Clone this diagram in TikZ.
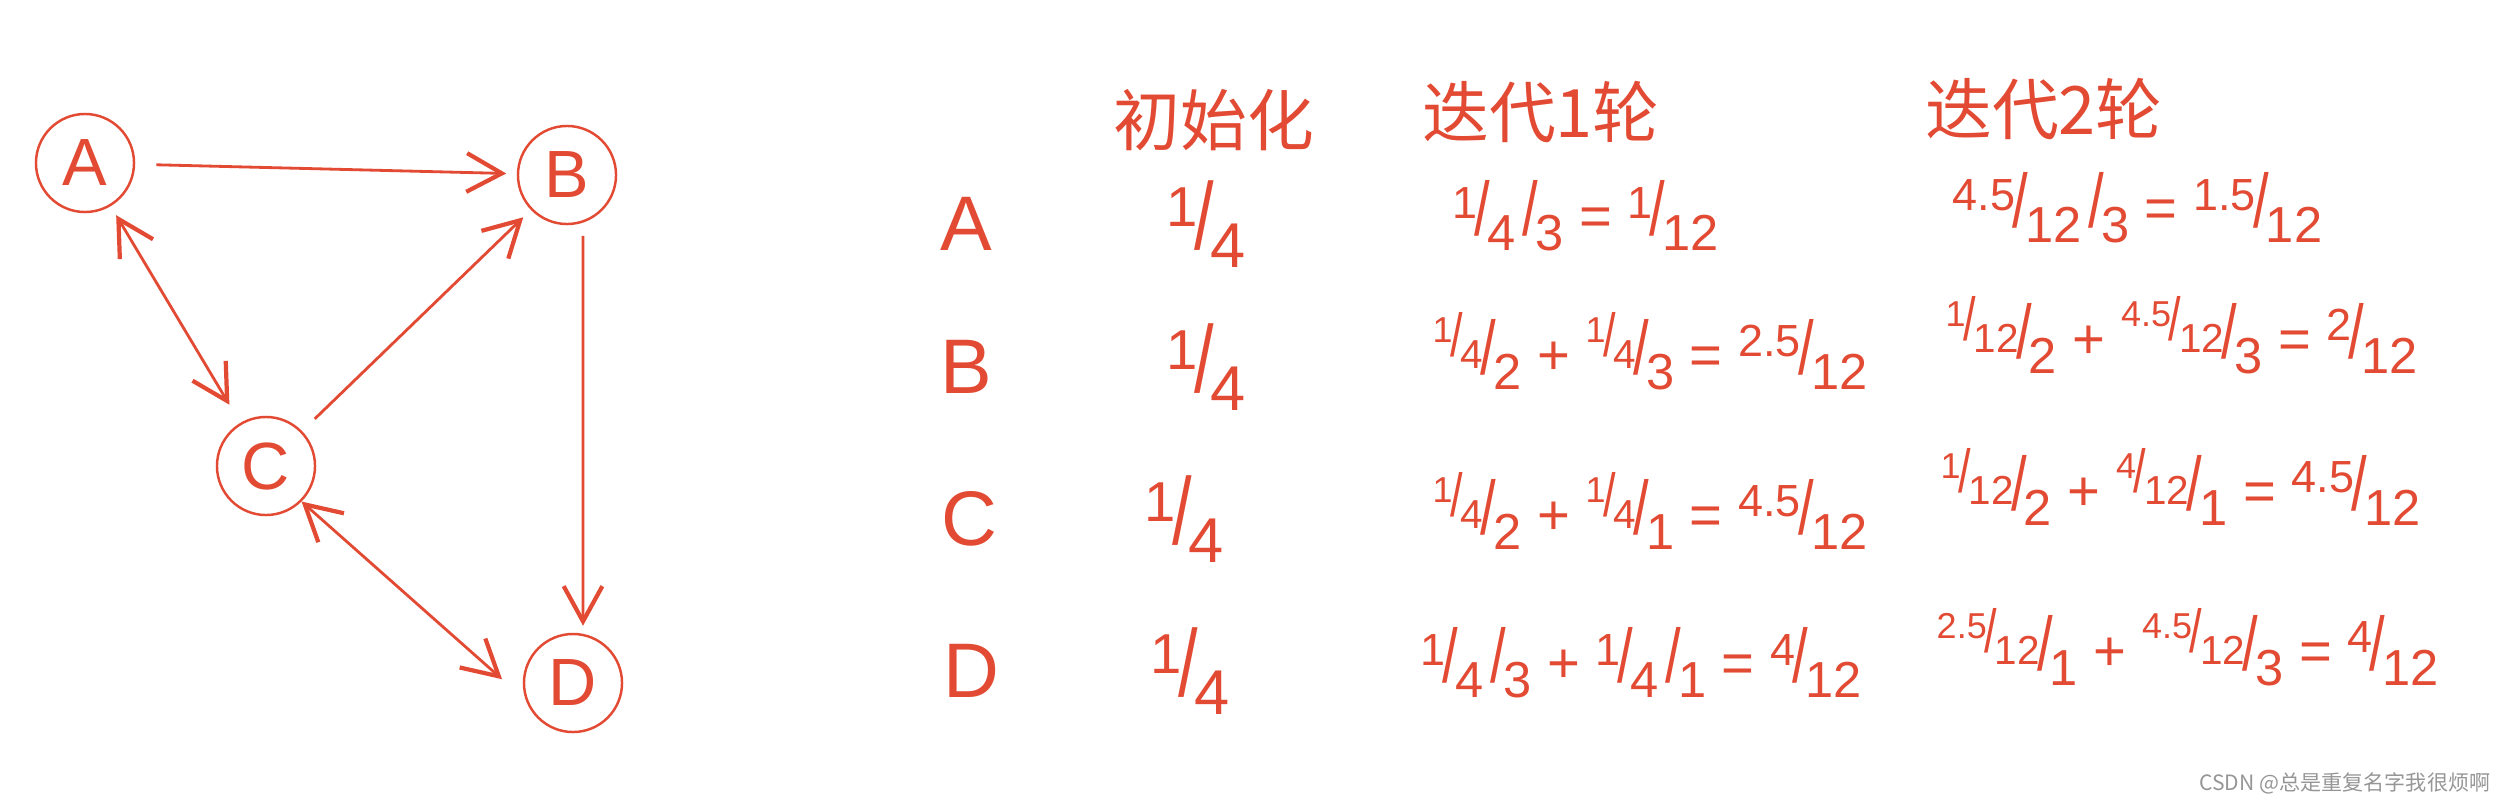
\documentclass[tikz,border=0pt]{standalone}
\usepackage{graphicx}
\usepackage{fontspec}
\setmainfont{Liberation Sans}
\newfontfamily\cjk{Noto Sans CJK SC}
\usetikzlibrary{arrows.meta}

\definecolor{ink}{RGB}{226,74,51}
\definecolor{markgray}{RGB}{150,150,150}

% raised numerator / lowered denominator, as written by hand
\newcommand{\hwfrac}[2]{\raisebox{0.6ex}{\scalebox{0.8}{#1}}\kern-0.05em\scalebox{1}[1.35]{/}\kern-0.05em\raisebox{-0.5ex}{\scalebox{0.9}{#2}}}

\tikzset{
  vertex/.style={draw=ink, circle, line width=0.7pt, minimum size=0.98cm,
    inner sep=0pt, text=ink, font=\fontsize{19}{22}\selectfont},
  link/.style={draw=ink, line width=0.8pt,
    >={Straight Barb[length=10pt,width=11pt,line width=1.2pt]}},
  rowname/.style={text=ink, font=\fontsize{22}{26}\selectfont},
  head/.style={text=ink, font=\cjk\fontsize{19}{22}\selectfont},
  init/.style={text=ink, font=\fontsize{20}{24}\selectfont},
  cell/.style={text=ink, anchor=west, inner sep=0pt, font=\fontsize{16}{19}\selectfont}
}

\begin{document}
\begin{tikzpicture}[x=0.01cm, y=-0.01cm]
    \useasboundingbox (0,0) rectangle (2504,803);

    % graph
    \node[vertex] (A) at (85,163) {A};
    \node[vertex] (B) at (567,175) {B};
    \node[vertex] (C) at (266,466) {C};
    \node[vertex] (D) at (573,683) {D};

    \draw[link, ->, shorten <=6pt, shorten >=3pt] (A) -- (B);
    \draw[link, <->, shorten <=3pt, shorten >=6pt] (A) -- (C);
    \draw[link, ->, shorten <=5pt, shorten >=3pt] (C) -- (B);
    \draw[link, ->, shorten <=3pt, shorten >=2pt] ([xshift=0.16cm]B.south) -- ([xshift=0.1cm]D.north);
    \draw[link, <->, shorten >=9pt] (C.-45) -- (D.200);

    % table
    \node[head] (h0) at (1214,120) {初始化};
    \node[head] (h1) at (1541,112) {迭代1轮};
    \node[head] (h2) at (2044,109) {迭代2轮};

    \node[rowname] (rA) at (966,224) {A};
    \node[rowname] (rB) at (966,367) {B};
    \node[rowname] (rC) at (969,519) {C};
    \node[rowname] (rD) at (971,671) {D};

    \node[init] (iA) at (1206,224) {\hwfrac{1}{4}};
    \node[init] (iB) at (1206,367) {\hwfrac{1}{4}};
    \node[init] (iC) at (1184,519) {\hwfrac{1}{4}};
    \node[init] (iD) at (1190,671) {\hwfrac{1}{4}};

    \node[cell] (fA) at (1452,216) {\hwfrac{1}{4}\,\hwfrac{}{3} = \hwfrac{1}{12}};
    \node[cell] (fB) at (1432,351) {\hwfrac{\hwfrac{1}{4}}{2} + \hwfrac{\hwfrac{1}{4}}{3} = \hwfrac{2.5}{12}};
    \node[cell] (fC) at (1432,511) {\hwfrac{\hwfrac{1}{4}}{2} + \hwfrac{\hwfrac{1}{4}}{1} = \hwfrac{4.5}{12}};
    \node[cell] (fD) at (1420,663) {\hwfrac{1}{4}\,\hwfrac{}{3} + \hwfrac{1}{4}\,\hwfrac{}{1} = \hwfrac{4}{12}};

    \node[cell] (sA) at (1952,208) {\hwfrac{4.5}{12}\,\hwfrac{}{3} = \hwfrac{1.5}{12}};
    \node[cell] (sB) at (1945,335) {\hwfrac{\hwfrac{1}{12}}{2} + \hwfrac{\hwfrac{4.5}{12}}{3} = \hwfrac{2}{12}};
    \node[cell] (sC) at (1940,487) {\hwfrac{\hwfrac{1}{12}}{2} + \hwfrac{\hwfrac{4}{12}}{1} = \hwfrac{4.5}{12}};
    \node[cell] (sD) at (1936,647) {\hwfrac{\hwfrac{2.5}{12}}{1} + \hwfrac{\hwfrac{4.5}{12}}{3} = \hwfrac{4}{12}};

    \node[anchor=east, inner sep=0pt, text=markgray, font=\cjk\fontsize{6}{7}\selectfont] (mark) at (2491,783) {CSDN @总是重复名字我很烦啊};
\end{tikzpicture}
\end{document}
